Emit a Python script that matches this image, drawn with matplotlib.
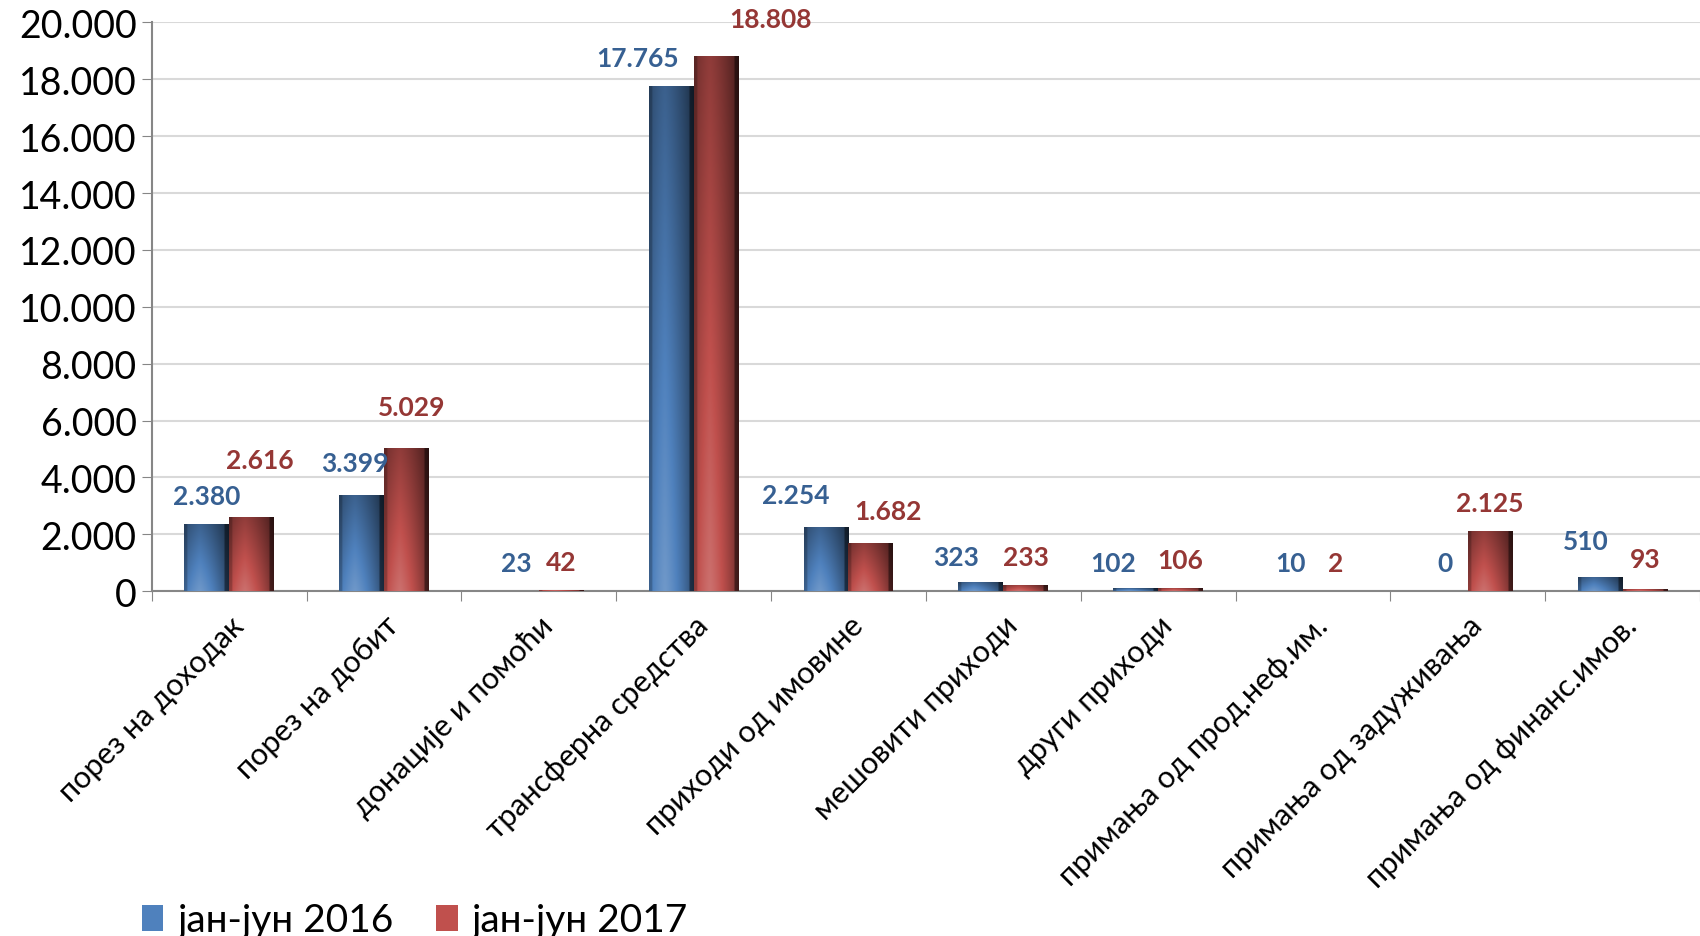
import numpy as np
import matplotlib.pyplot as plt
from matplotlib.ticker import FuncFormatter, MultipleLocator
from matplotlib.colors import to_rgb

plt.rcParams['font.family'] = ['Lato', 'DejaVu Sans']

categories = ['порез на доходак', 'порез на добит', 'донације и помоћи',
              'трансферна средства', 'приходи од имовине', 'мешовити приходи',
              'други приходи', 'примања од прод.неф.им.', 'примања од задуживања',
              'примања од финанс.имов.']
vals_2016 = [2380, 3399, 23, 17765, 2254, 323, 102, 10, 0, 510]
vals_2017 = [2616, 5029, 42, 18808, 1682, 233, 106, 2, 2125, 93]
series_names = ['јан-јун 2016', 'јан-јун 2017']

# label placement relative to bar top centre (points)
dx_2016 = [0, -5, 0, -24, -22, -18, -16, 0, 0, -10]
dy_2016 = [20, 23, 20, 20, 23, 18, 18, 20, 20, 26]
dx_2017 = [6, 4, 0, 39, 12, 0, 0, 0, 0, 0]
dy_2017 = [41, 30, 20, 27, 23, 20, 20, 20, 20, 21]

blue = '#4F81BD'
red = '#C0504D'
blue_txt = '#376092'
red_txt = '#953735'

fig = plt.figure(figsize=(17, 9.37), dpi=100)
ax = fig.add_axes([0.0893, 0.368, 0.9107, 0.607])

x = np.arange(len(categories))
w = 0.29


def shade(base):
    r, g, b = to_rgb(base)
    nx, ny = 40, 60
    xs = np.linspace(0, 1, nx)
    ys = np.linspace(0, 1, ny)  # 0 = bottom
    hx = 1 - 0.55 * np.abs(xs - 0.35) ** 1.3 * 1.6
    hx[-4:] *= 0.55
    hx[:3] *= 0.8
    vy = 0.75 + 0.45 * (1 - ys)
    m = np.outer(vy, hx)
    img = np.zeros((ny, nx, 3))
    for i, c in enumerate((r, g, b)):
        lo = c * m
        img[..., i] = np.clip(np.where(m > 1, c + (1 - c) * (m - 1) * 0.9, lo), 0, 1)
    return img


img_b = shade(blue)
img_r = shade(red)

bars_b = ax.bar(x - w / 2, vals_2016, w, color=blue, label=series_names[0], zorder=2)
bars_r = ax.bar(x + w / 2, vals_2017, w, color=red, label=series_names[1], zorder=2)

for bars, img in ((bars_b, img_b), (bars_r, img_r)):
    for p in bars:
        if p.get_height() <= 0:
            continue
        x0, y0 = p.get_x(), p.get_y()
        im = ax.imshow(img, extent=[x0, x0 + p.get_width(), y0, y0 + p.get_height()],
                       origin='lower', aspect='auto', zorder=3, interpolation='bilinear')
        im.set_clip_path(p)

fmt = lambda v: f'{int(v):,}'.replace(',', '.')

for xi, v, dx, dy in zip(x, vals_2016, dx_2016, dy_2016):
    ax.annotate(fmt(v), (xi - w / 2, v), xytext=(dx, dy), textcoords='offset points',
                ha='center', va='center', fontsize=19, fontweight='bold', color=blue_txt)
for xi, v, dx, dy in zip(x, vals_2017, dx_2017, dy_2017):
    ax.annotate(fmt(v), (xi + w / 2, v), xytext=(dx, dy), textcoords='offset points',
                ha='center', va='center', fontsize=19, fontweight='bold', color=red_txt)

ax.set_xlim(-0.5, len(categories) - 0.5)
ax.set_ylim(0, 20000)
ax.yaxis.set_major_locator(MultipleLocator(2000))
ax.yaxis.set_major_formatter(FuncFormatter(lambda v, p: fmt(v)))
ax.tick_params(axis='y', labelsize=27, length=7, color='#868686', pad=4)
ax.grid(axis='y', color='#d9d9d9', linewidth=1.5, zorder=0)
ax.set_axisbelow(True)

ax.set_xticks(np.arange(-0.5, len(categories), 1))
ax.set_xticklabels([])
ax.set_xticks(x, minor=True)
ax.set_xticklabels(categories, minor=True, rotation=45, ha='right', rotation_mode='anchor',
                   fontsize=22)
ax.tick_params(axis='x', which='minor', length=0, pad=14)
ax.tick_params(axis='x', which='major', length=7, color='#868686')

for s in ['top', 'right']:
    ax.spines[s].set_visible(False)
ax.spines['left'].set_color('#868686')
ax.spines['bottom'].set_color('#868686')
ax.spines['left'].set_linewidth(1.5)
ax.spines['bottom'].set_linewidth(1.5)

leg = fig.legend(loc='lower left', bbox_to_anchor=(0.063, -0.04), ncol=2, frameon=False,
                 fontsize=28, handlelength=0.55, handleheight=0.65, handletextpad=0.35,
                 columnspacing=1.1)

fig.savefig('out.png', dpi=100)
